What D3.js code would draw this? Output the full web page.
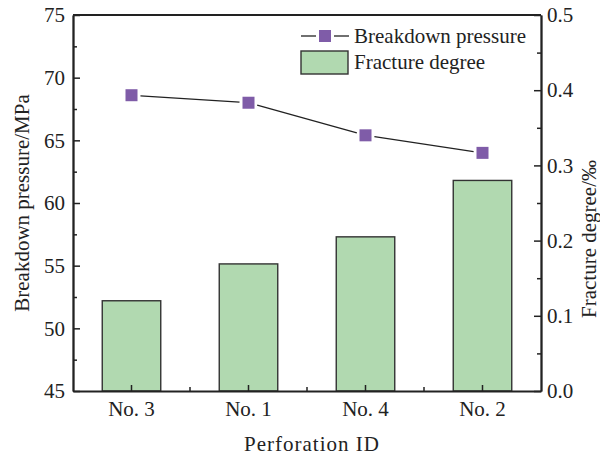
<!DOCTYPE html>
<html>
<head>
<meta charset="utf-8">
<script src="https://cdn.jsdelivr.net/npm/d3@7"></script>
<style>
  body { margin: 0; background: #fff; }
</style>
</head>
<body>
<script>
// data
var perforations = ["No. 3", "No. 1", "No. 4", "No. 2"];
var breakdownPressure = [68.6, 68.0, 65.4, 64.0];
var fractureDegree = [0.12, 0.169, 0.205, 0.28];
var pressureTicks = [45, 50, 55, 60, 65, 70, 75];
var degreeTicks = [0.0, 0.1, 0.2, 0.3, 0.4, 0.5];

var width = 600, height = 459;
var margin = {top: 15, right: 59, bottom: 68, left: 73};
var w = width - margin.left - margin.right;
var h = height - margin.top - margin.bottom;
var fs = 21;
var serif = "Liberation Serif";

var svg = d3.select("body").append("svg")
    .attr("width", width)
    .attr("height", height);
var g = svg.append("g")
    .attr("transform", "translate(" + margin.left + "," + margin.top + ")");

var x = d3.scaleBand().domain(perforations).range([0, w]).paddingInner(0).paddingOuter(0);
var yL = d3.scaleLinear().domain([45, 75]).range([h, 0]);
var yR = d3.scaleLinear().domain([0, 0.5]).range([h, 0]);

var barW = x.bandwidth() * 0.5;

// bars
g.selectAll("rect.bar").data(fractureDegree).enter().append("rect")
    .attr("class", "bar")
    .attr("x", function(d, i) { return x(perforations[i]) + (x.bandwidth() - barW) / 2; })
    .attr("y", function(d) { return yR(d); })
    .attr("width", barW)
    .attr("height", function(d) { return h - yR(d); })
    .attr("fill", "#b1d9b0")
    .attr("stroke", "#333")
    .attr("stroke-width", 1.4);

// line with small gaps around markers
var pts = breakdownPressure.map(function(d, i) {
  return [x(perforations[i]) + x.bandwidth() / 2, yL(d)];
});
var gap = 9;
for (var i = 0; i < pts.length - 1; i++) {
  var a = pts[i], b = pts[i + 1];
  var dx = b[0] - a[0], dy = b[1] - a[1];
  var len = Math.sqrt(dx * dx + dy * dy);
  g.append("line")
      .attr("x1", a[0] + dx / len * gap)
      .attr("y1", a[1] + dy / len * gap)
      .attr("x2", b[0] - dx / len * gap)
      .attr("y2", b[1] - dy / len * gap)
      .attr("stroke", "#222")
      .attr("stroke-width", 1.3);
}
var ms = 12;
g.selectAll("rect.mark").data(pts).enter().append("rect")
    .attr("class", "mark")
    .attr("x", function(d) { return d[0] - ms / 2; })
    .attr("y", function(d) { return d[1] - ms / 2; })
    .attr("width", ms)
    .attr("height", ms)
    .attr("fill", "#7f5ca8");

// axes
function styleAxis(sel) {
  sel.attr("font-family", serif).attr("font-size", fs);
  sel.selectAll("path.domain").attr("stroke", "#222").attr("stroke-width", 1.8);
  sel.selectAll(".tick line").attr("stroke", "#222").attr("stroke-width", 1.5);
  sel.selectAll(".tick text").attr("fill", "#222");
}

var minorL = d3.range(47.5, 75, 5);
g.append("g")
    .call(d3.axisLeft(yL).tickValues(minorL).tickSize(-4).tickSizeOuter(0).tickFormat(""))
    .call(styleAxis);
g.append("g")
    .call(d3.axisLeft(yL).tickValues(pressureTicks).tickSize(-7).tickSizeOuter(0).tickPadding(8))
    .call(styleAxis);

var minorR = d3.range(0.05, 0.5, 0.1);
g.append("g")
    .attr("transform", "translate(" + w + ",0)")
    .call(d3.axisRight(yR).tickValues(minorR).tickSize(-4).tickSizeOuter(0).tickFormat(""))
    .call(styleAxis);
g.append("g")
    .attr("transform", "translate(" + w + ",0)")
    .call(d3.axisRight(yR).tickValues(degreeTicks).tickSize(-7).tickSizeOuter(0).tickPadding(6)
      .tickFormat(d3.format(".1f")))
    .call(styleAxis);

var bottom = g.append("g")
    .attr("transform", "translate(0," + h + ")")
    .call(d3.axisBottom(x).tickSize(-6).tickSizeOuter(0).tickPadding(10))
    .call(styleAxis);
// minor ticks between categories
bottom.selectAll("line.minor").data(perforations.slice(1)).enter().append("line")
    .attr("class", "minor")
    .attr("x1", function(d) { return x(d); })
    .attr("x2", function(d) { return x(d); })
    .attr("y1", 0)
    .attr("y2", -4)
    .attr("stroke", "#222")
    .attr("stroke-width", 1.5);

// top frame
g.append("line")
    .attr("x1", 0).attr("x2", w).attr("y1", 0).attr("y2", 0)
    .attr("stroke", "#222").attr("stroke-width", 1.8);

// axis titles
svg.append("text")
    .attr("transform", "translate(29," + (margin.top + h / 2) + ") rotate(-90)")
    .attr("text-anchor", "middle")
    .text("Breakdown pressure/MPa");
svg.append("text")
    .attr("transform", "translate(596,239) rotate(-90)")
    .attr("text-anchor", "middle")
    .text("Fracture degree/\u2030");
var xTitle = svg.append("text")
    .attr("x", margin.left + w / 2 + 5)
    .attr("y", 451)
    .attr("text-anchor", "middle")
    .text("Perforation ID");

// legend
var lg = svg.append("g").attr("transform", "translate(301,36)");
lg.append("line").attr("x1", 0).attr("x2", 15).attr("y1", 0).attr("y2", 0)
    .attr("stroke", "#222").attr("stroke-width", 1.3);
lg.append("line").attr("x1", 33).attr("x2", 48).attr("y1", 0).attr("y2", 0)
    .attr("stroke", "#222").attr("stroke-width", 1.3);
lg.append("rect").attr("x", 24 - ms / 2).attr("y", -ms / 2).attr("width", ms).attr("height", ms)
    .attr("fill", "#7f5ca8");
lg.append("text").attr("x", 53).attr("y", 7).text("Breakdown pressure");
lg.append("rect").attr("x", 0).attr("y", 15).attr("width", 47).attr("height", 23)
    .attr("fill", "#b1d9b0").attr("stroke", "#333").attr("stroke-width", 1.4);
lg.append("text").attr("x", 53).attr("y", 33).text("Fracture degree");

svg.selectAll("svg > text, g > text").filter(function() { return !this.closest(".tick"); })
    .attr("font-family", serif)
    .attr("font-size", fs)
    .attr("fill", "#222");
xTitle.attr("letter-spacing", 1);
</script>
</body>
</html>
